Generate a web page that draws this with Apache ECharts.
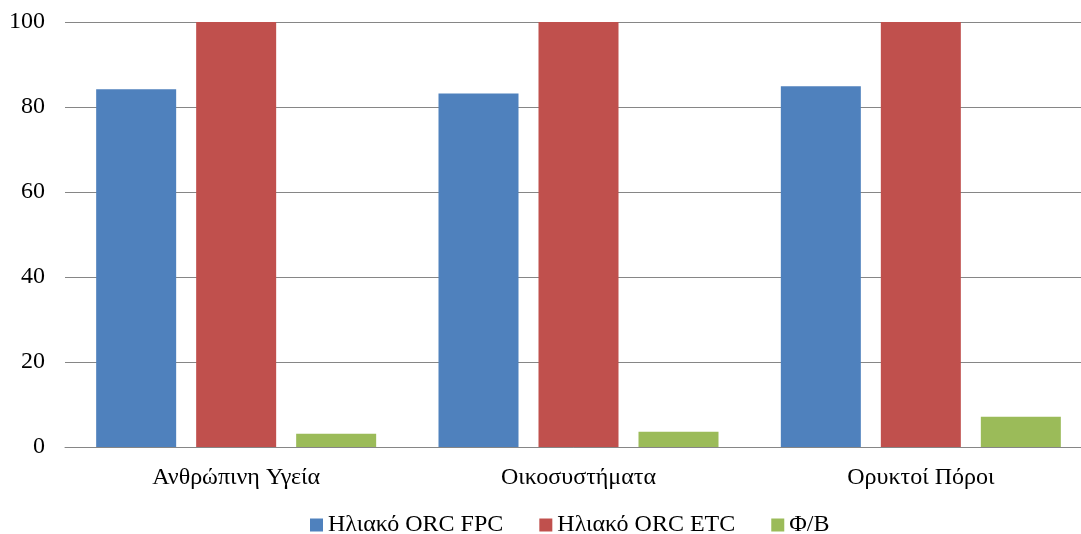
<!DOCTYPE html>
<html><head><meta charset="utf-8">
<script src="https://cdn.jsdelivr.net/npm/echarts@6/dist/echarts.min.js"></script>
<style>html,body{margin:0;padding:0;background:#fff}#c{width:1081px;height:534px}</style>
</head><body><div id="c"></div>
<script>
const categories = ['Ανθρώπινη Υγεία', 'Οικοσυστήματα', 'Ορυκτοί Πόροι'];
const seriesNames = ['Ηλιακό ORC FPC', 'Ηλιακό ORC ETC', 'Φ/Β'];
const fpcValues = [84.2, 83.2, 84.9];
const etcValues = [100, 100, 100];
const pvValues = [3.1, 3.6, 7.1];
const colors = ['#4f81bd', '#c0504d', '#9bbb59'];
const font = '"Liberation Serif", "Times New Roman", serif';

const chart = echarts.init(document.getElementById('c'));
const data = [fpcValues, etcValues, pvValues];
chart.setOption({
  animation: false,
  textStyle: { fontFamily: font },
  grid: { left: 65, width: 1027, top: 22, bottom: 87, containLabel: false, outerBoundsMode: 'none' },
  legend: {
    top: 508, left: 305, itemWidth: 13, itemHeight: 13, itemGap: 36,
    icon: 'rect',
    textStyle: { fontFamily: font, fontSize: 24, color: '#000' },
    data: seriesNames
  },
  xAxis: {
    type: 'category', data: categories,
    axisLine: { lineStyle: { color: '#868686', width: 1 } },
    axisTick: { show: false },
    axisLabel: { fontFamily: font, fontSize: 24, color: '#000', margin: 19 }
  },
  yAxis: {
    type: 'value', min: 0, max: 100, interval: 20,
    axisLine: { show: false }, axisTick: { show: false },
    splitLine: { lineStyle: { color: '#868686', width: 1 } },
    axisLabel: { fontFamily: font, fontSize: 24, color: '#000', margin: 20 }
  },
  series: seriesNames.map((n, i) => ({
    name: n, type: 'bar', data: data[i],
    barWidth: 80, barGap: '25%',
    itemStyle: { color: colors[i] }
  }))
});
</script></body></html>
